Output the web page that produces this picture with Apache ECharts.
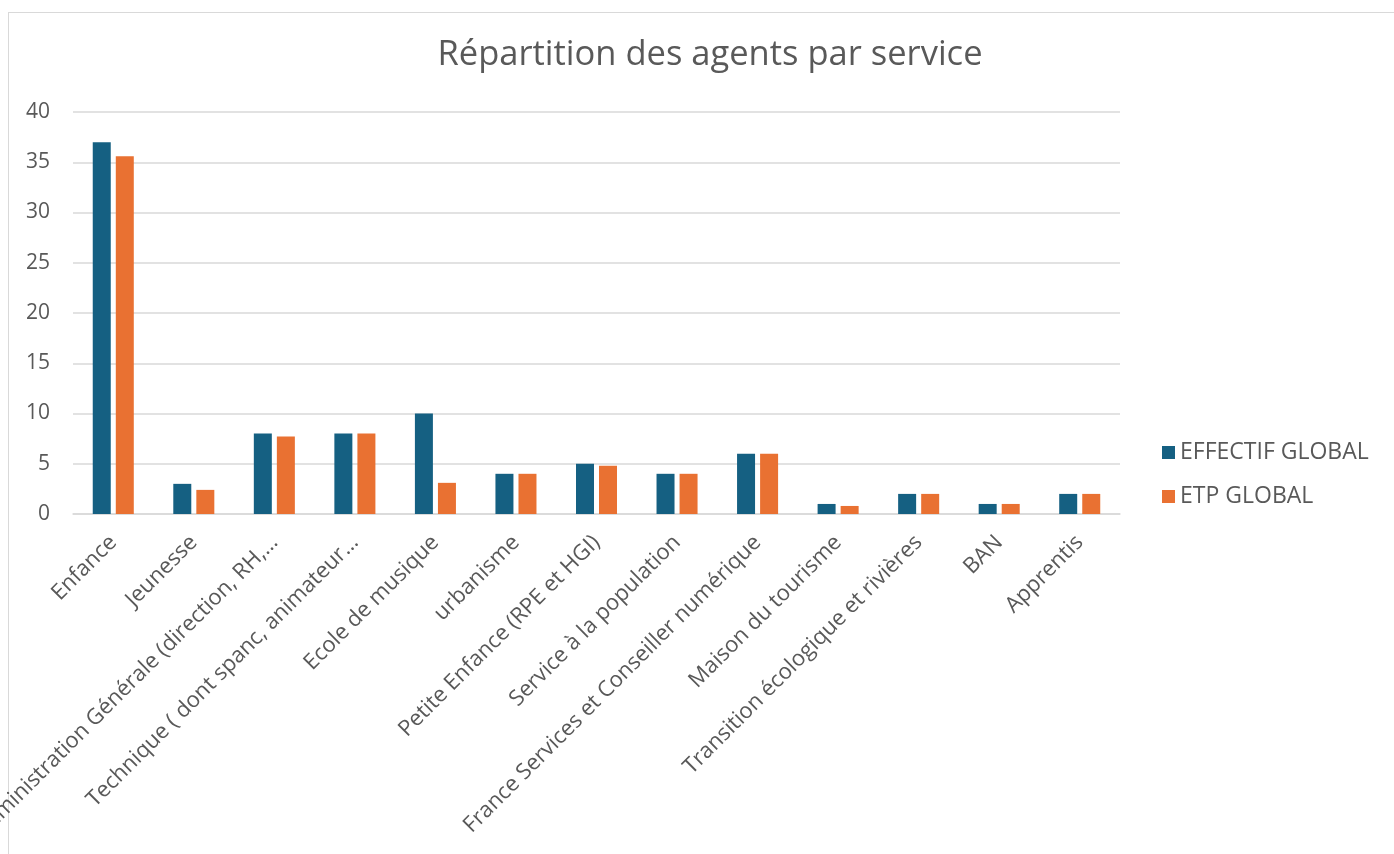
<!DOCTYPE html>
<html>
<head>
<meta charset="utf-8">
<script src="https://cdn.jsdelivr.net/npm/echarts@6/dist/echarts.min.js"></script>
<style>
  html, body { margin: 0; padding: 0; background: #fff; }
  #frame { position: absolute; left: 8px; top: 12px; width: 1400px; height: 900px;
           border-left: 1.5px solid #d9d9d9; border-top: 1.5px solid #d9d9d9; }
  #chart { position: absolute; left: 0; top: 0; width: 1394px; height: 854px; }
</style>
</head>
<body>
<div id="frame"></div>
<div id="chart"></div>
<script>
// services (x axis)
const services = [
  'Enfance', 'Jeunesse', 'Administration Générale (direction, RH,…',
  'Technique ( dont spanc, animateur…', 'Ecole de musique', 'urbanisme',
  'Petite Enfance (RPE et HGI)', 'Service à la population',
  'France Services et Conseiller numérique', 'Maison du tourisme',
  'Transition écologique et rivières', 'BAN', 'Apprentis'
]
const effectifGlobal = [37, 3, 8, 8, 10, 4, 5, 4, 6, 1, 2, 1, 2]
const etpGlobal = [35.6, 2.4, 7.7, 8, 3.1, 4, 4.8, 4, 6, 0.8, 2, 1, 2]
const seriesNames = ['EFFECTIF GLOBAL', 'ETP GLOBAL']

const textColor = '#595959'
const font = 'Open Sans'

let myChart = echarts.init(document.getElementById('chart'))
let option = {
  animation: false,
  color: ['#156082', '#E97132'],
  textStyle: { fontFamily: font },
  title: {
    text: 'Répartition des agents par service',
    left: 705,
    textAlign: 'center',
    top: 33,
    textStyle: { fontFamily: font, fontSize: 34.5, fontWeight: 'normal', color: textColor }
  },
  legend: {
    data: seriesNames,
    orient: 'vertical',
    left: 1157,
    top: 436,
    itemWidth: 13,
    itemHeight: 13,
    itemGap: 21,
    icon: 'rect',
    textStyle: { fontFamily: font, fontSize: 23, color: textColor }
  },
  grid: { left: 73, right: 274, top: 112, bottom: 340, outerBoundsMode: 'none', containLabel: false },
  xAxis: {
    type: 'category',
    data: services,
    axisLine: { lineStyle: { color: '#d9d9d9', width: 1.5 } },
    axisTick: { show: false },
    axisLabel: {
      rotate: 45,
      interval: 0,
      margin: 25,
      fontFamily: font,
      fontSize: 22,
      color: textColor
    }
  },
  yAxis: {
    type: 'value',
    min: 0,
    max: 40,
    interval: 5,
    axisLine: { show: false },
    axisTick: { show: false },
    axisLabel: { fontFamily: font, fontSize: 21, color: textColor, margin: 23 },
    splitLine: { lineStyle: { color: '#d9d9d9', width: 1.5 } }
  },
  series: [
    {
      name: seriesNames[0],
      type: 'bar',
      data: effectifGlobal,
      barWidth: 18,
      barGap: '28%'
    },
    {
      name: seriesNames[1],
      type: 'bar',
      data: etpGlobal,
      barWidth: 18,
      barGap: '28%'
    }
  ]
}
myChart.setOption(option)
</script>
</body>
</html>
